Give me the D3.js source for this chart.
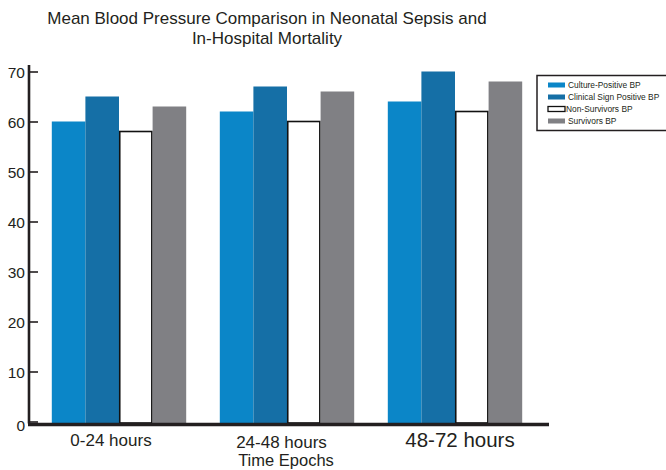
<!DOCTYPE html>
<html><head><meta charset="utf-8">
<script src="https://cdn.jsdelivr.net/npm/d3@7"></script>
<style>body{margin:0;background:#fff}svg{display:block;font-family:"Liberation Sans",Arial,sans-serif}</style>
</head><body><svg id="c" width="666" height="470"></svg>
<script>
const categories = ["0-24 hours", "24-48 hours", "48-72 hours"];
const seriesNames = ["Culture-Positive BP", "Clinical Sign Positive BP", "Non-Survivors BP", "Survivors BP"];
const culturePositive = [60, 62, 64];
const clinicalSign = [65, 67, 70];
const nonSurvivors = [58, 60, 62];
const survivors = [63, 66, 68];
const yTicks = [0, 10, 20, 30, 40, 50, 60, 70];

const seriesValues = [culturePositive, clinicalSign, nonSurvivors, survivors];
const fills = ["#0b86c8", "#156fa6", "#ffffff", "#808084"];
const strokes = ["none", "none", "#111", "none"];

const svg = d3.select("#c");
const x = d3.scaleBand().domain(categories).range([35, 539]).paddingInner(0.2).paddingOuter(0.1);
const xs = d3.scaleBand().domain(seriesNames).range([0, x.bandwidth()]);
const y = d3.scaleLinear().domain([0, 70]).range([421.5, 71.5]);

// bars
categories.forEach((c, i) => {
  const g = svg.append("g").attr("transform", `translate(${x(c)},0)`);
  seriesNames.forEach((s, j) => {
    const v = seriesValues[j][i];
    const hasStroke = strokes[j] !== "none";
    g.append("rect")
      .attr("x", xs(s) + (hasStroke ? 0.75 : 0))
      .attr("y", y(v))
      .attr("width", xs.bandwidth() - (hasStroke ? 1.5 : 0))
      .attr("height", y(0) - y(v) + 1.5)
      .attr("fill", fills[j])
      .attr("stroke", strokes[j])
      .attr("stroke-width", 1.6);
  });
});

// y axis
const yAxis = d3.axisRight(y).tickValues(yTicks).tickSize(9).tickFormat("");
const ya = svg.append("g").attr("transform", "translate(29,0)").call(yAxis);
ya.select(".domain").remove();
ya.selectAll(".tick line").attr("stroke", "#231f20").attr("stroke-width", 1.6);
svg.append("line").attr("x1", 29).attr("x2", 29).attr("y1", 65).attr("y2", y(0) + 2)
  .attr("stroke", "#231f20").attr("stroke-width", 2.6);
svg.append("g").selectAll("text").data(yTicks).join("text")
  .attr("x", 25).attr("y", d => y(d) + (d === 0 ? 3 : 0)).attr("dy", "0.45em")
  .attr("text-anchor", "end").attr("font-size", 15.5).attr("fill", "#231f20")
  .text(d => d);

// x baseline
svg.append("line").attr("x1", 28).attr("x2", 549).attr("y1", y(0) + 3).attr("y2", y(0) + 3)
  .attr("stroke", "#231f20").attr("stroke-width", 3.3);

// x labels
const xLabelSizes = [17, 17, 20.5];
const xLabelDx = [-8, -5.5, 5];
const xLabelY = [446, 448, 447];
svg.append("g").selectAll("text").data(categories).join("text")
  .attr("x", (d, i) => x(d) + x.bandwidth() / 2 + xLabelDx[i])
  .attr("y", (d, i) => xLabelY[i])
  .attr("text-anchor", "middle").attr("font-size", (d, i) => xLabelSizes[i]).attr("fill", "#231f20")
  .text(d => d);
svg.append("text").attr("x", 286).attr("y", 466).attr("text-anchor", "middle")
  .attr("font-size", 16.5).attr("fill", "#231f20").text("Time Epochs");

// title
svg.append("text").attr("x", 267).attr("y", 24).attr("text-anchor", "middle")
  .attr("font-size", 17).attr("fill", "#231f20").text("Mean Blood Pressure Comparison in Neonatal Sepsis and");
svg.append("text").attr("x", 267).attr("y", 44).attr("text-anchor", "middle")
  .attr("font-size", 17).attr("fill", "#231f20").text("In-Hospital Mortality");

// legend
const lg = svg.append("g");
lg.append("rect").attr("x", 537).attr("y", 75.5).attr("width", 130).attr("height", 55)
  .attr("fill", "#fff").attr("stroke", "#231f20").attr("stroke-width", 1.5);
seriesNames.forEach((s, j) => {
  const cy = 85 + j * 12;
  lg.append("rect").attr("x", 548).attr("y", cy - 2.5).attr("width", 17).attr("height", 5)
    .attr("fill", fills[j]).attr("stroke", strokes[j]).attr("stroke-width", 1.3);
  lg.append("text").attr("x", j === 2 ? 566 : 568).attr("y", cy).attr("dy", "0.35em")
    .attr("font-size", 8.4).attr("fill", "#231f20").text(s);
});
</script></body></html>
